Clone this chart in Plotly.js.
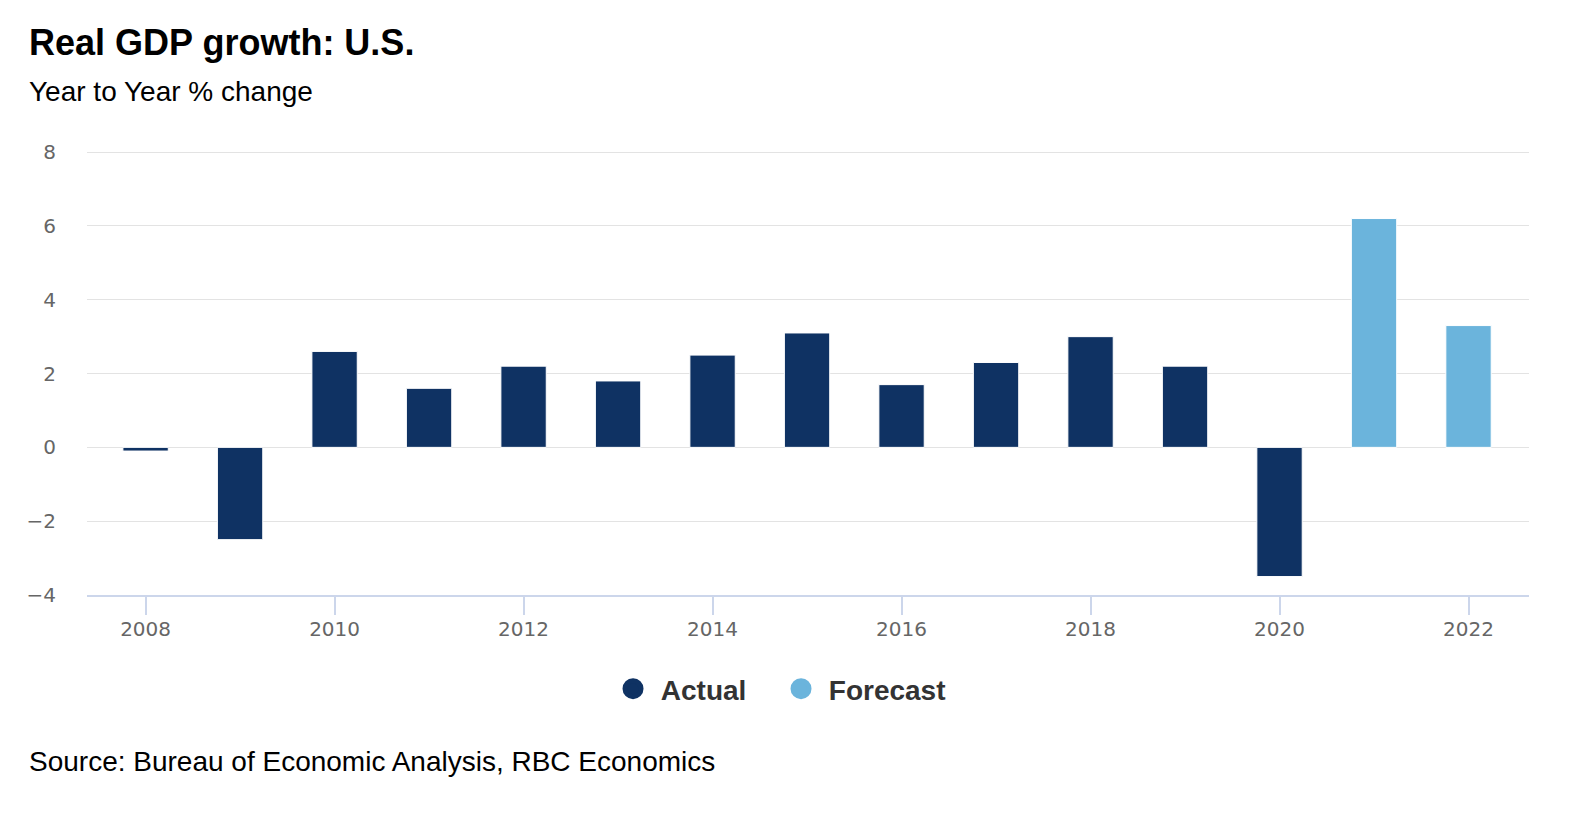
<!DOCTYPE html>
<html>
<head>
<meta charset="utf-8">
<script src="https://cdn.plot.ly/plotly-3.0.1.min.js"></script>
<style>
  html, body { margin: 0; padding: 0; background: #ffffff; overflow: hidden; }
  #chart { width: 1574px; height: 824px; }
</style>
</head>
<body>
<div id="chart"></div>
<script>
        // Real GDP growth, year to year % change
        const actualYears = [2008, 2009, 2010, 2011, 2012, 2013, 2014, 2015, 2016, 2017, 2018, 2019, 2020];
        const actualValues = [-0.1, -2.5, 2.6, 1.6, 2.2, 1.8, 2.5, 3.1, 1.7, 2.3, 3.0, 2.2, -3.5];
        const forecastYears = [2021, 2022];
        const forecastValues = [6.2, 3.3];
        const yTicks = [-4, -2, 0, 2, 4, 6, 8];

        const darkBlue = "#0f3263";
        const lightBlue = "#6bb4dc";

        function barTrace(name, xs, ys, color) {
            return {
                type: "bar",
                name: name,
                x: xs,
                y: ys,
                width: 0.48,
                marker: { color: color, line: { color: "#ffffff", width: 1 } },
                showlegend: false,
                hoverinfo: "x+y"
            };
        }

        // legend-only traces so the legend gets round symbols
        function legendTrace(name, color) {
            return {
                type: "scatter",
                mode: "markers",
                name: "\u00a0" + name,
                x: [null],
                y: [null],
                marker: { color: color, size: 16, symbol: "circle", line: { color: color, width: 5 } },
                hoverinfo: "skip"
            };
        }

        const data = [
            barTrace("Actual", actualYears, actualValues, darkBlue),
            barTrace("Forecast", forecastYears, forecastValues, lightBlue),
            legendTrace("Actual", darkBlue),
            legendTrace("Forecast", lightBlue)
        ];

        const layout = {
            width: 1574,
            height: 824,
            paper_bgcolor: "#ffffff",
            plot_bgcolor: "#ffffff",
            margin: { l: 87, r: 45, t: 151, b: 229 },
            barmode: "overlay",
            font: { family: "Liberation Sans, Arial, sans-serif", color: "#000000" },
            title: {
                text: "<b>Real GDP growth: U.S.</b>",
                font: { size: 36, color: "#000000", family: "Liberation Sans, Arial, sans-serif" },
                x: 29 / 1574,
                xanchor: "left",
                xref: "container",
                y: 1 - 42 / 824,
                yanchor: "middle",
                yref: "container"
            },
            xaxis: {
                range: [2007.38, 2022.64],
                tickmode: "linear",
                tick0: 2008,
                dtick: 2,
                ticks: "outside",
                ticklen: 18,
                tickwidth: 2,
                tickcolor: "#ccd6eb",
                ticklabelstandoff: -3,
                showline: true,
                linecolor: "#ccd6eb",
                linewidth: 2,
                showgrid: false,
                zeroline: false,
                automargin: false,
                tickfont: { family: "DejaVu Sans, sans-serif", size: 20, color: "#666666" },
                fixedrange: true
            },
            yaxis: {
                range: [-4, 8.03],
                tickvals: yTicks,
                showgrid: true,
                gridcolor: "#e3e3e3",
                gridwidth: 1,
                zeroline: false,
                showline: false,
                automargin: false,
                ticklabelstandoff: 30,
                tickfont: { family: "DejaVu Sans, sans-serif", size: 20, color: "#666666" },
                fixedrange: true
            },
            legend: {
                orientation: "h",
                xref: "container",
                yref: "container",
                x: 0.4962,
                xanchor: "center",
                y: 1 - 689 / 824,
                yanchor: "middle",
                font: { family: "Liberation Sans, Arial, sans-serif", size: 28, color: "#333333", weight: "bold" },
                entrywidth: 123,
                itemwidth: 30,
                tracegroupgap: 0
            },
            annotations: [
                {
                    text: "Year to Year % change",
                    xref: "paper", yref: "paper",
                    x: (27 - 87) / 1442, y: (595 - 91) / 444,
                    xanchor: "left", yanchor: "middle",
                    showarrow: false,
                    font: { size: 28, color: "#000000" }
                },
                {
                    text: "Source: Bureau of Economic Analysis, RBC Economics",
                    xref: "paper", yref: "paper",
                    x: (27 - 87) / 1442, y: (595 - 761) / 444,
                    xanchor: "left", yanchor: "middle",
                    showarrow: false,
                    font: { size: 28, color: "#000000" }
                }
            ]
        };

        Plotly.newPlot("chart", data, layout, { displayModeBar: false, responsive: false });
</script>
</body>
</html>
